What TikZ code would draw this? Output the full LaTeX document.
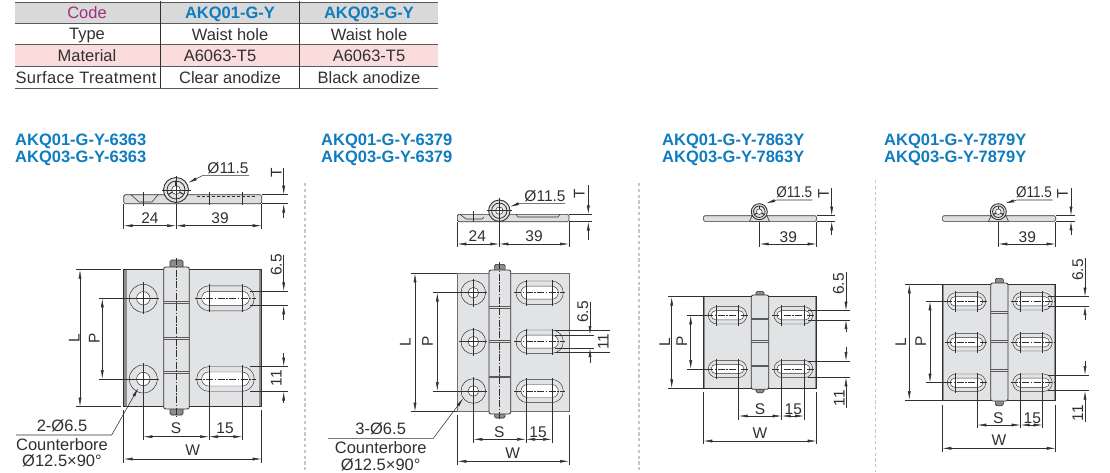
\documentclass[tikz,border=0pt]{standalone}
\usepackage{fontspec}
\setmainfont{Liberation Sans}
\newfontfamily\widefont{Liberation Sans}[LetterSpace=2]
\usepackage{xcolor}
\definecolor{code-blue}{HTML}{0F7CC0}
\definecolor{code-purple}{HTML}{A0307F}
\definecolor{head-grey}{HTML}{D9D9D9}
\definecolor{row-pink}{HTML}{FBDCDC}
\definecolor{plate-grey}{HTML}{E2E3E5}
\definecolor{strip-grey}{HTML}{8C8E91}
\definecolor{ink}{HTML}{303030}
\usepackage{tikz}
\usetikzlibrary{arrows.meta}
\tikzset{cell/.style = {font=\fontsize{16.5}{18}\selectfont, text=ink, inner sep=0pt, text height=11.5pt, text depth=0pt}}
\tikzset{widecell/.style = {cell, font=\widefont\fontsize{16.5}{18}\selectfont}}
\tikzset{codecell/.style = {cell, font=\bfseries\fontsize{16.5}{18}\selectfont, text=code-blue}}
\tikzset{title/.style = {font=\bfseries\fontsize{16.5}{18}\selectfont, text=code-blue, anchor=west, inner sep=0pt, text height=11.5pt, text depth=0pt}}
\tikzset{lab/.style = {font=\fontsize{15.5}{17}\selectfont, text=ink, inner sep=0pt, text height=11pt, text depth=0pt}}
\tikzset{smalllab/.style = {lab, xscale=.87}}
\tikzset{note/.style = {lab, font=\fontsize{16.5}{18}\selectfont}}
\tikzset{vlab/.style = {lab, rotate=90}}
\tikzset{ext/.style = {ink, line width=.55pt}}
\tikzset{arr/.style = {ink, line width=.55pt, -{Latex[length=9pt,width=3pt]}}}
\tikzset{dim/.style = {ink, line width=.55pt, {Latex[length=9pt,width=3pt]}-{Latex[length=9pt,width=3pt]}}}
\tikzset{body/.style = {draw=ink, line width=.6pt, fill=plate-grey}}
\tikzset{axis/.style = {ink, line width=.45pt, dash pattern=on 7pt off 1.5pt on 1.5pt off 1.5pt}}
\tikzset{sep/.style = {draw=black!22, line width=1.2pt, dash pattern=on 3.2pt off 2.6pt}}

% #1 left, #2 right, #3 y, #4 outer half height, #5 inner half height, #6 inset, #7 tick, #8 tick
\newcommand{\slothole}[8]{
  \draw[ink, line width=.45pt, rounded corners=#4pt] (#1,{#3-#4}) rectangle (#2,{#3+#4});
  \draw[ink, line width=.45pt, fill=white, rounded corners=#5pt] ({#1+#6},{#3-#5}) rectangle ({#2-#6},{#3+#5});
  \draw[axis] ({#1-2},#3) -- ({#2+2},#3);
  \draw[ext] (#7,{#3-#4-1.5}) -- (#7,{#3+#4+1.5});
  \draw[ext] (#8,{#3-#4-1.5}) -- (#8,{#3+#4+1.5});
}
% #1 x, #2 y, #3 outer radius, #4 inner radius, #5 cross half length
\newcommand{\borehole}[5]{
  \draw[ink, line width=.5pt] (#1,#2) circle (#3);
  \draw[ink, line width=.5pt, fill=white] (#1,#2) circle (#4);
  \draw[ext] ({#1-#5},#2) -- ({#1+#5},#2);
  \draw[ext] (#1,{#2-#5}) -- (#1,{#2+#5});
}
% #1 x, #2 y, #3 radius
\newcommand{\pinend}[3]{
  \draw[body, line width=.9pt] (#1,#2) circle (#3);
  \draw[ink, line width=.8pt] (#1,#2) circle ({#3*.72});
  \draw[ink, line width=.5pt, fill=white] (#1,#2) circle ({#3*.35});
}
% #1 x, #2 y, #3 radius
\newcommand{\pinspoke}[3]{
  \foreach \ang in {30,150,270} {
    \draw[ink, line width=1.1pt] ({#1+#3*.35*cos(\ang)},{#2+#3*.35*sin(\ang)}) -- ({#1+#3*.72*cos(\ang)},{#2+#3*.72*sin(\ang)});
  }
}
% #1 left, #2 right, #3 top, #4 bottom, #5 pin half width, #6 pin top, #7 pin bottom, #8 three seam heights
\newcommand{\barrel}[8]{
  \draw[ink, line width=.6pt, fill=black!45, rounded corners=1.5pt] ({(#1+#2)/2-#5},#6) rectangle ({(#1+#2)/2+#5},#7);
  \draw[body, line width=.8pt, rounded corners=2pt] (#1,#3) rectangle (#2,#4);
  \foreach \seam in {#8} {
    \draw[ink!80, line width=.5pt] (#1,{\seam-1}) -- (#2,{\seam-1});
    \draw[ink!80, line width=.5pt] (#1,{\seam+.6}) -- (#2,{\seam+.6});
  }
}

\begin{document}
\begin{tikzpicture}[x=1pt, y=-1pt]
\useasboundingbox (0,0) rectangle (1110,472);

% table
\fill[head-grey] (15,2) rectangle (438,23);
\fill[row-pink] (15,44.5) rectangle (438,66);
\foreach \rowy in {2,23,44.5,66,88} {\draw[ink!80, line width=.7pt] (15,\rowy) -- (438,\rowy);}
\draw[ink, line width=.8pt] (160,1) -- (160,88);
\draw[ink, line width=.8pt] (299,1) -- (299,88);
\node[cell, text=code-purple] (code) at (87,12.5) {Code};
\node[codecell] (code1) at (230,12.5) {AKQ01-G-Y};
\node[codecell] (code3) at (369,12.5) {AKQ03-G-Y};
\node[cell] (type) at (87,33.5) {Type};
\node[cell] (type1) at (230,34.5) {Waist hole};
\node[cell] (type3) at (369,34.5) {Waist hole};
\node[cell] (mat) at (87,55.5) {Material};
\node[cell] (mat1) at (220,55.5) {A6063-T5};
\node[cell] (mat3) at (369,55.5) {A6063-T5};
\node[widecell] (surf) at (86,77.5) {Surface Treatment};
\node[cell] (surf1) at (230,77.5) {Clear anodize};
\node[cell] (surf3) at (369,77.5) {Black anodize};

% separators
\draw[sep] (305,183) -- (305,472);
\draw[sep] (639,183) -- (639,472);
\draw[sep] (875.5,180) -- (875.5,472);

% hinge 6363
\node[title] (t1a) at (15,140) {AKQ01-G-Y-6363};
\node[title] (t1b) at (15,157) {AKQ03-G-Y-6363};
\draw[body, fill=black!13, rounded corners=1.5pt] (123.7,194.7) rectangle (261.7,203.7);
\draw[ext, densely dashed] (197,196) -- (256,196);
\draw[ext] (131,194.7) -- (139,202) -- (152,202) -- (158,194.7);
\draw[ext] (143.5,192) -- (143.5,206);
\draw[ext] (209,192) -- (209,205);
\draw[ext] (242.5,192) -- (242.5,205);
\pinend{176}{190}{12.5}
\pinspoke{176}{190}{12.5}
\draw[ext] (161.5,190) -- (190.5,190);
\draw[ext] (176,175.5) -- (176,203);
\draw[ext] (261.7,194.7) -- (288,194.7);
\draw[ext] (261.7,203.7) -- (288,203.7);
\draw[arr] (283.7,168) -- (283.7,194.7);
\draw[arr] (283.7,218) -- (283.7,203.7);
\node[vlab] (t1t) at (276,173) {T};
\draw[arr] (249,175.3) -- (203,175.3) -- (188,183);
\node[lab] (t1d) at (228,168) {Ø11.5};
\draw[ext] (123.7,204) -- (123.7,229);
\draw[ext] (176,204) -- (176,229);
\draw[ext] (261.7,204) -- (261.7,229);
\draw[dim] (123.7,225.7) -- (176,225.7);
\draw[dim] (176,225.7) -- (261.7,225.7);
\node[lab] (t1l) at (150,218) {24};
\node[lab] (t1r) at (220,218) {39};

\fill[plate-grey] (123.7,269.7) rectangle (261.7,406.7);
\fill[strip-grey] (123.7,269.7) rectangle (127,406.7);
\fill[strip-grey] (259,269.7) rectangle (261.7,406.7);
\draw[ink, line width=.6pt] (123.7,269.7) rectangle (261.7,406.7);
\borehole{143.3}{298.3}{14}{6.7}{16}
\borehole{143.3}{379}{14}{6.7}{16}
\slothole{196.7}{254.3}{298.3}{12.5}{7}{5}{209}{242.3}
\slothole{196.7}{254.3}{379}{12.5}{7}{5}{209}{242.3}
\barrel{163.7}{189.3}{267}{409}{6.5}{260}{415}{302.3,338.3,372.3}
\draw[axis] (176,258) -- (176,417);
\draw[ext] (76,269.7) -- (121,269.7);
\draw[ext] (76,406.7) -- (121,406.7);
\draw[dim] (80,269.7) -- (80,406.7);
\node[vlab] (f1l) at (74,338) {L};
\draw[ext] (99,298.3) -- (129,298.3);
\draw[ext] (99,379) -- (129,379);
\draw[dim] (102.3,298.3) -- (102.3,379);
\node[vlab] (f1p) at (94,338) {P};
\draw[ext] (250,291.3) -- (288,291.3);
\draw[ext] (250,305.3) -- (288,305.3);
\draw[arr] (283.7,255) -- (283.7,291.3);
\draw[arr] (283.7,320) -- (283.7,305.3);
\node[vlab] (f1a) at (276,265) {6.5};
\draw[ext] (250,366.5) -- (288,366.5);
\draw[ext] (250,391.5) -- (288,391.5);
\draw[arr] (283.7,353) -- (283.7,366.5);
\draw[arr] (283.7,403) -- (283.7,391.5);
\node[vlab] (f1b) at (276,378) {11};
\draw[ext] (143.3,395) -- (143.3,440);
\draw[ext] (209,392) -- (209,440);
\draw[ext] (242.3,392) -- (242.3,440);
\draw[dim] (143.3,436.7) -- (209,436.7);
\draw[dim] (209,436.7) -- (242.3,436.7);
\node[lab] (f1s) at (176,428) {S};
\node[lab] (f1c) at (225,428) {15};
\draw[ext] (123.7,410) -- (123.7,463);
\draw[ext] (261.7,410) -- (261.7,463);
\draw[dim] (123.7,459) -- (261.7,459);
\node[lab] (f1w) at (192.7,450) {W};
\draw[arr] (16,435) -- (111.7,435) -- (138.3,388);
\node[note] (n1a) at (62,426) {2-Ø6.5};
\node[note] (n1b) at (62,445) {Counterbore};
\node[note] (n1c) at (62,461) {Ø12.5×90°};

% hinge 6379
\node[title] (t2a) at (321,140) {AKQ01-G-Y-6379};
\node[title] (t2b) at (321,157) {AKQ03-G-Y-6379};
\draw[body, fill=black!13, rounded corners=1.5pt] (457.3,214.3) rectangle (569,221.7);
\draw[ext] (516,214.3) -- (518,217) -- (558,217) -- (560,214.3);
\draw[ext] (460,214.3) -- (466,219) -- (482,219) -- (484,217);
\draw[ext] (473.3,211) -- (473.3,222);
\pinend{499.3}{210.7}{10.7}
\draw[ext] (486.5,210.7) -- (512,210.7);
\draw[ext] (499.3,198) -- (499.3,222);
\draw[ext] (569,214.3) -- (592,214.3);
\draw[ext] (569,221.7) -- (592,221.7);
\draw[arr] (588.3,185) -- (588.3,214.3);
\draw[arr] (588.3,240) -- (588.3,221.7);
\node[vlab] (t2t) at (579,194) {T};
\draw[arr] (565,203.7) -- (518.3,203.7) -- (510,206.7);
\node[lab] (t2d) at (545,196) {Ø11.5};
\draw[ext] (457.3,222) -- (457.3,247);
\draw[ext] (499.3,222) -- (499.3,247);
\draw[ext] (569,222) -- (569,247);
\draw[dim] (457.3,244) -- (499.3,244);
\draw[dim] (499.3,244) -- (569,244);
\node[lab] (t2l) at (477.3,235.7) {24};
\node[lab] (t2r) at (534,235.7) {39};

\draw[body, draw=ink!70] (457.3,273.3) rectangle (569,411.7);
\foreach \holey in {292.7,341.7,391} {
  \borehole{473.3}{\holey}{12.3}{5.3}{14}
  \slothole{516}{563.3}{\holey}{11.7}{6.5}{5}{526}{552}
}
\barrel{489}{510.7}{270}{414}{5.3}{264.3}{418}{307.3,341.7,377}
\draw[axis] (499.3,262) -- (499.3,420);
\draw[ext] (411,273.3) -- (457,273.3);
\draw[ext] (411,411.7) -- (457,411.7);
\draw[dim] (415,273.3) -- (415,411.7);
\node[vlab] (f2l) at (405,341.7) {L};
\draw[ext] (433,292.7) -- (462,292.7);
\draw[ext] (433,391) -- (462,391);
\draw[dim] (437.3,292.7) -- (437.3,391);
\node[vlab] (f2p) at (427.3,341.7) {P};
\draw[ext] (555,335) -- (594,335);
\draw[ext] (555,348) -- (594,348);
\draw[arr] (590,301.7) -- (590,335);
\draw[arr] (590,363) -- (590,348);
\node[vlab] (f2a) at (582.7,312) {6.5};
\draw[ext] (555,330.7) -- (610,330.7);
\draw[ext] (555,352.7) -- (610,352.7);
\node[vlab] (f2b) at (603,341.7) {11};
\draw[ext] (473.3,395) -- (473.3,443);
\draw[ext] (526,395) -- (526,443);
\draw[ext] (552,395) -- (552,443);
\draw[dim] (473.3,439.3) -- (526,439.3);
\draw[dim] (526,439.3) -- (552,439.3);
\node[lab] (f2s) at (499.3,431.7) {S};
\node[lab] (f2c) at (538,431.7) {15};
\draw[ext] (457.3,415) -- (457.3,465);
\draw[ext] (569,415) -- (569,465);
\draw[dim] (457.3,461.3) -- (569,461.3);
\node[lab] (f2w) at (512.7,453) {W};
\draw[arr] (328,438.3) -- (433.3,438.3) -- (463.3,398.3);
\node[note] (n2a) at (380.7,429) {3-Ø6.5};
\node[note] (n2b) at (380.7,448.3) {Counterbore};
\node[note] (n2c) at (380.7,465) {Ø12.5×90°};

% hinge 7863Y
\node[title] (t3a) at (662,140) {AKQ01-G-Y-7863Y};
\node[title] (t3b) at (662,157) {AKQ03-G-Y-7863Y};
\draw[body, fill=black!13, rounded corners=1.5pt] (703.3,215.7) rectangle (816.7,221.3);
\draw[body, fill=black!13] (749.5,221.3) -- (752,216) -- (767,216) -- (769.5,221.3) -- cycle;
\pinend{759.3}{211.7}{8}
\pinspoke{759.3}{211.7}{8}
\draw[ext] (816.7,215.7) -- (835,215.7);
\draw[ext] (816.7,221.3) -- (835,221.3);
\draw[arr] (831.7,188) -- (831.7,215.7);
\draw[arr] (831.7,235) -- (831.7,221.3);
\node[vlab] (t3t) at (823.3,194) {T};
\draw[arr] (812.3,200) -- (776.7,200) -- (766,203.3);
\node[smalllab] (t3d) at (794.3,191.7) {Ø11.5};
\draw[ext] (759.7,222) -- (759.7,247);
\draw[ext] (816.7,222) -- (816.7,247);
\draw[dim] (759.7,244) -- (816.7,244);
\node[lab] (t3r) at (788.3,236.7) {39};

\fill[plate-grey] (703.3,296.7) rectangle (816.7,388.3);
\fill[strip-grey] (703.3,296.7) rectangle (705.3,388.3);
\fill[strip-grey] (814.7,296.7) rectangle (816.7,388.3);
\draw[ink, line width=.6pt] (703.3,296.7) rectangle (816.7,388.3);
\foreach \sloty in {315.3,369} {
  \slothole{708.3}{746.7}{\sloty}{8.7}{4.6}{2.8}{716.3}{738.7}
  \slothole{774}{812.7}{\sloty}{8.7}{4.6}{2.8}{781.7}{804}
}
\barrel{751.3}{768.7}{295}{389.3}{4}{291.3}{392.7}{319,341.7,366}
\draw[ext] (668,296.7) -- (703,296.7);
\draw[ext] (668,388.3) -- (703,388.3);
\draw[dim] (671.7,296.7) -- (671.7,388.3);
\node[vlab] (f3l) at (664.7,341.7) {L};
\draw[ext] (686.7,315.3) -- (706,315.3);
\draw[ext] (686.7,369) -- (706,369);
\draw[dim] (690.7,315.3) -- (690.7,369);
\node[vlab] (f3p) at (681.7,341.7) {P};
\draw[ext] (808,310.7) -- (850,310.7);
\draw[ext] (808,320) -- (850,320);
\draw[arr] (846,271.7) -- (846,310.7);
\draw[arr] (846,331.7) -- (846,320);
\node[vlab] (f3a) at (838.3,284) {6.5};
\draw[ext] (808,361) -- (850,361);
\draw[ext] (808,377.3) -- (850,377.3);
\draw[arr] (846,347) -- (846,361);
\draw[arr] (846,408) -- (846,377.3);
\node[vlab] (f3b) at (839,398) {11};
\draw[ext] (738.7,376) -- (738.7,420);
\draw[ext] (781.7,376) -- (781.7,420);
\draw[ext] (804,376) -- (804,420);
\draw[dim] (738.7,416) -- (781.7,416);
\draw[dim] (781.7,416) -- (804,416);
\node[lab] (f3s) at (760,408.7) {S};
\node[lab] (f3c) at (793.3,408.7) {15};
\draw[ext] (703.3,392) -- (703.3,444);
\draw[ext] (816.7,392) -- (816.7,444);
\draw[dim] (703.3,441) -- (816.7,441);
\node[lab] (f3w) at (760,433.3) {W};

% hinge 7879Y
\node[title] (t4a) at (884,140) {AKQ01-G-Y-7879Y};
\node[title] (t4b) at (884,157) {AKQ03-G-Y-7879Y};
\draw[body, fill=black!13, rounded corners=1.5pt] (942.3,215.7) rectangle (1055.7,221.3);
\draw[body, fill=black!13] (988.5,221.3) -- (991,216) -- (1006,216) -- (1008.5,221.3) -- cycle;
\pinend{998.3}{211.7}{8}
\pinspoke{998.3}{211.7}{8}
\draw[ext] (1055.7,215.7) -- (1075,215.7);
\draw[ext] (1055.7,221.3) -- (1075,221.3);
\draw[arr] (1071,188) -- (1071,215.7);
\draw[arr] (1071,235) -- (1071,221.3);
\node[vlab] (t4t) at (1062.3,194) {T};
\draw[arr] (1052.7,200) -- (1016.7,200) -- (1005,203.3);
\node[smalllab] (t4d) at (1034,191.7) {Ø11.5};
\draw[ext] (998.3,222) -- (998.3,247);
\draw[ext] (1055.7,222) -- (1055.7,247);
\draw[dim] (998.3,244) -- (1055.7,244);
\node[lab] (t4r) at (1027.3,236.7) {39};

\fill[plate-grey] (942.3,284.3) rectangle (1055.7,400);
\fill[strip-grey] (942.3,284.3) rectangle (944.3,400);
\fill[strip-grey] (1053.7,284.3) rectangle (1055.7,400);
\draw[ink, line width=.6pt] (942.3,284.3) rectangle (1055.7,400);
\foreach \sloty in {301.3,342.3,382.7} {
  \slothole{947.3}{985.7}{\sloty}{8.7}{4.6}{2.8}{955.3}{977.3}
  \slothole{1012.7}{1052.3}{\sloty}{8.7}{4.6}{2.8}{1020.7}{1042.7}
}
\barrel{990.7}{1008}{283}{401}{4}{278.3}{405.7}{312.7,341.7,370.7}
\draw[ext] (905,284.3) -- (942,284.3);
\draw[ext] (905,400) -- (942,400);
\draw[dim] (909.3,284.3) -- (909.3,400);
\node[vlab] (f4l) at (900.7,341.7) {L};
\draw[ext] (926,301.3) -- (945,301.3);
\draw[ext] (926,382.7) -- (945,382.7);
\draw[dim] (930,301.3) -- (930,382.7);
\node[vlab] (f4p) at (920.7,341.7) {P};
\draw[ext] (1048,296.7) -- (1089,296.7);
\draw[ext] (1048,306) -- (1089,306);
\draw[arr] (1085,258) -- (1085,296.7);
\draw[arr] (1085,320) -- (1085,306);
\node[vlab] (f4a) at (1077.7,270) {6.5};
\draw[ext] (1048,375) -- (1089,375);
\draw[ext] (1048,390.7) -- (1089,390.7);
\draw[arr] (1085,360.7) -- (1085,375);
\draw[arr] (1085,421.7) -- (1085,390.7);
\node[vlab] (f4b) at (1077.7,413.3) {11};
\draw[ext] (977.3,390) -- (977.3,428);
\draw[ext] (1020.7,390) -- (1020.7,428);
\draw[ext] (1042.7,390) -- (1042.7,428);
\draw[dim] (977.3,425) -- (1020.7,425);
\draw[dim] (1020.7,425) -- (1042.7,425);
\node[lab] (f4s) at (998.3,417.7) {S};
\node[lab] (f4c) at (1032.3,417.7) {15};
\draw[ext] (942.3,405) -- (942.3,452);
\draw[ext] (1055.7,405) -- (1055.7,452);
\draw[dim] (942.3,448.3) -- (1055.7,448.3);
\node[lab] (f4w) at (999,440) {W};

\end{tikzpicture}
\end{document}
